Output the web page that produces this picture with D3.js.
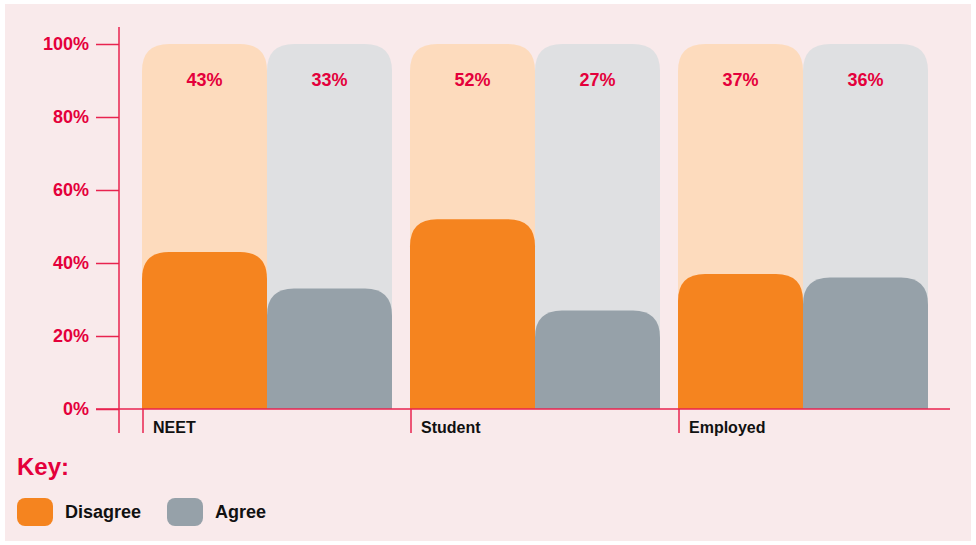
<!DOCTYPE html>
<html>
<head>
<meta charset="utf-8">
<script src="https://cdn.jsdelivr.net/npm/d3@7"></script>
<style>
  html, body { margin: 0; padding: 0; background: #ffffff; }
  svg { display: block; font-family: "Liberation Sans", Arial, sans-serif; }
</style>
</head>
<body>
<svg id="chart" width="976" height="545"></svg>
<script>
// Survey responses by group (percent)
const categories = ["NEET", "Student", "Employed"];
const seriesNames = ["Disagree", "Agree"];
const disagree = [43, 52, 37];
const agree = [33, 27, 36];
const yTicks = [0, 20, 40, 60, 80, 100];

const colors = { Disagree: "#f5841f", Agree: "#96a1a9" };
const shadeColors = { Disagree: "#fddbbd", Agree: "#dfe0e2" };
const accent = "#e4003b";
const lineColor = "#e8234f";

const svg = d3.select("#chart");

// Panel background
svg.append("rect").attr("x", 5).attr("y", 4).attr("width", 966).attr("height", 537).attr("fill", "#f9eaeb");

const x0 = d3.scaleBand().domain(categories).range([142, 946]).padding(0);
const x1 = d3.scaleBand().domain(seriesNames).range([0, 250]).padding(0);
const y = d3.scaleLinear().domain([0, 100]).range([409, 44]);

const rows = categories.map((c, i) => ({ category: c, Disagree: disagree[i], Agree: agree[i] }));

// Bar with rounded top corners only
function topRounded(x, yTop, w, yBottom, r) {
  const rr = Math.min(r, w / 2, yBottom - yTop);
  return `M${x},${yBottom}V${yTop + rr}Q${x},${yTop} ${x + rr},${yTop}H${x + w - rr}Q${x + w},${yTop} ${x + w},${yTop + rr}V${yBottom}Z`;
}

const groups = svg.append("g").selectAll("g").data(rows).join("g")
  .attr("transform", d => `translate(${x0(d.category)},0)`);

// Full-height shaded tracks
groups.selectAll("path.track").data(d => seriesNames.map(k => ({ key: k, value: d[k] }))).join("path")
  .attr("class", "track")
  .attr("fill", d => shadeColors[d.key])
  .attr("d", d => topRounded(x1(d.key), y(100), x1.bandwidth(), y(0), 27));

// Value bars
groups.selectAll("path.bar").data(d => seriesNames.map(k => ({ key: k, value: d[k] }))).join("path")
  .attr("class", "bar")
  .attr("fill", d => colors[d.key])
  .attr("d", d => topRounded(x1(d.key), y(d.value), x1.bandwidth(), y(0), 27));

// Value labels near top of track
groups.selectAll("text.val").data(d => seriesNames.map(k => ({ key: k, value: d[k] }))).join("text")
  .attr("class", "val")
  .attr("x", d => x1(d.key) + x1.bandwidth() / 2)
  .attr("y", 86)
  .attr("text-anchor", "middle")
  .attr("fill", accent)
  .attr("font-weight", "bold")
  .attr("font-size", 18)
  .text(d => d.value + "%");

// Y axis
const yAxis = d3.axisLeft(y).tickValues(yTicks).tickFormat(d => d + "%").tickSize(23).tickPadding(7);
const yg = svg.append("g").attr("transform", "translate(119,0)").call(yAxis);
yg.select(".domain").remove();
yg.selectAll(".tick line").attr("stroke", lineColor).attr("stroke-width", 1.5);
yg.selectAll(".tick text").attr("fill", accent).attr("font-weight", "bold").attr("font-size", 18)
  .attr("font-family", "'Liberation Sans', Arial, sans-serif");
svg.append("line").attr("x1", 119).attr("x2", 119).attr("y1", 27).attr("y2", 433)
  .attr("stroke", lineColor).attr("stroke-width", 1.5);

// Baseline
svg.append("line").attr("x1", 96).attr("x2", 950).attr("y1", y(0)).attr("y2", y(0))
  .attr("stroke", lineColor).attr("stroke-width", 1.5);

// Category ticks and labels
const cat = svg.append("g").selectAll("g").data(categories).join("g")
  .attr("transform", d => `translate(${x0(d)},0)`);
cat.append("line").attr("x1", 1).attr("x2", 1).attr("y1", y(0)).attr("y2", 433)
  .attr("stroke", lineColor).attr("stroke-width", 1.5);
cat.append("text").attr("x", 11).attr("y", 433)
  .attr("font-weight", "bold").attr("font-size", 16).attr("fill", "#111")
  .text(d => d);

// Key
svg.append("text").attr("x", 17).attr("y", 475).attr("fill", accent)
  .attr("font-weight", "bold").attr("font-size", 24).text("Key:");
const legendX = [17, 167];
const key = svg.append("g").selectAll("g").data(seriesNames).join("g")
  .attr("transform", (d, i) => `translate(${legendX[i]},498)`);
key.append("rect").attr("width", 36).attr("height", 28).attr("rx", 8).attr("fill", d => colors[d]);
key.append("text").attr("x", 48).attr("y", 20).attr("font-weight", "bold").attr("font-size", 18)
  .attr("fill", "#111").text(d => d);
</script>
</body>
</html>
